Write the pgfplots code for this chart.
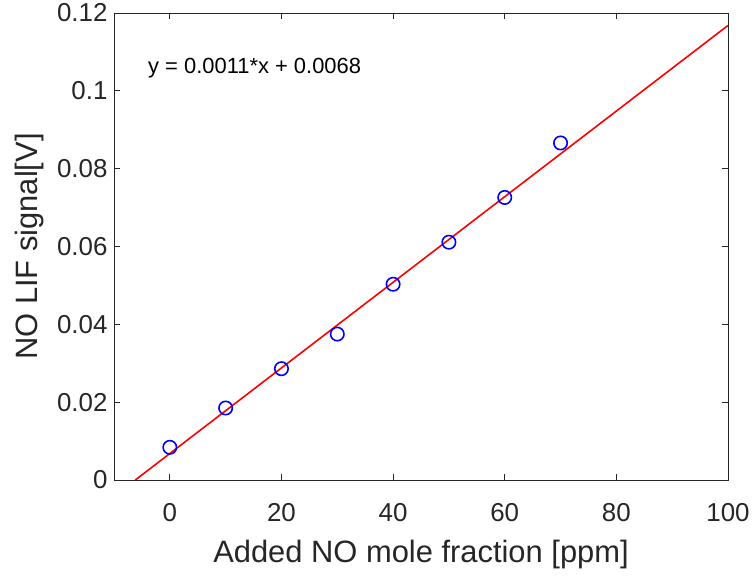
\documentclass[border=0pt]{standalone}
\usepackage{pgfplots}
\pgfplotsset{compat=1.18}
\usepackage{fontspec}
\setmainfont{Liberation Sans}
\definecolor{mlgray}{RGB}{38,38,38}

\begin{document}
\begin{tikzpicture}[x=1bp,y=1bp]
  \useasboundingbox (-114,-96) rectangle (640,480);
  \begin{axis}[
    at={(0,0)}, anchor=south west,
    scale only axis,
    width=614bp,
    height=467bp,
    xmin=-10, xmax=100,
    ymin=0, ymax=0.12,
    xtick={0,20,...,100},
    ytick={0,0.02,0.04,0.06,0.08,0.1,0.12},
    scaled y ticks=false,
    yticklabel style={/pgf/number format/fixed,/pgf/number format/precision=2,xshift=-3bp},
    xticklabel style={anchor=base,yshift=-41.7bp},
    /pgf/number format/assume math mode=true,
    tick align=inside,
    major tick length=6bp,
    axis line style={mlgray,line width=0.8bp},
    every tick/.style={mlgray,line width=0.8bp},
    ticklabel style={font=\fontsize{26}{30}\selectfont,text=mlgray},
    every axis x label/.style={at={(axis description cs:0.5,-0.1777)},anchor=base,
      font=\fontsize{31}{36}\selectfont,text=mlgray},
    every axis y label/.style={at={(axis description cs:-0.1254,0.5)},rotate=90,anchor=base,
      font=\fontsize{31}{36}\selectfont,text=mlgray},
    xlabel={Added NO mole fraction [ppm]},
    ylabel={NO LIF signal[V]},
    clip=true,
  ]
    \addplot[red,line width=1.6bp] coordinates {(-6.1818,0) (100,0.1168)};
    \addplot[only marks,mark=o,mark size=6.7bp,blue,mark options={line width=1.6bp}] coordinates {
      (0,0.0084) (10,0.0185) (20,0.0286) (30,0.0375)
      (40,0.0503) (50,0.0611) (60,0.0726) (70,0.0866)
    };
    \node[anchor=base west,inner sep=0pt,text=black,font=\fontsize{22}{26}\selectfont] at (axis cs:-3.91,0.1045) {y = 0.0011*x + 0.0068};
  \end{axis}
\end{tikzpicture}
\end{document}
